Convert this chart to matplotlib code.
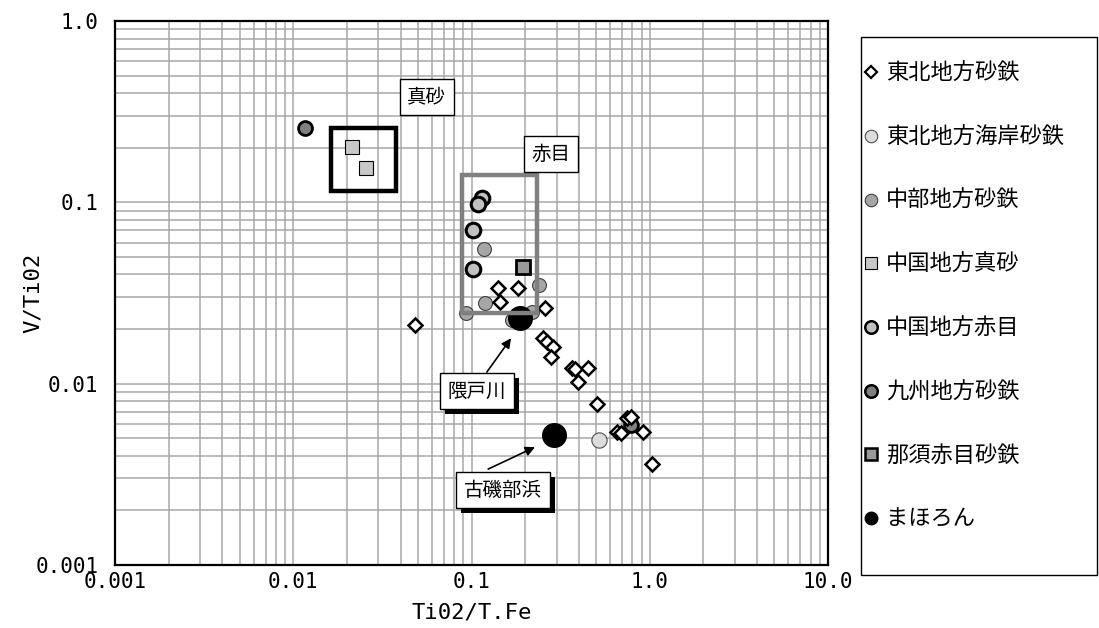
import matplotlib
matplotlib.use("Agg")
import matplotlib.pyplot as plt
import matplotlib.patheffects as pe
from matplotlib.lines import Line2D
from matplotlib.patches import Rectangle
from matplotlib.ticker import FixedLocator, FixedFormatter, NullFormatter, LogLocator

plt.rcParams['font.family'] = ['Noto Sans CJK JP', 'DejaVu Sans']

# 東北地方砂鉄 (diamonds)
tohoku_x = [0.0482, 0.141, 0.182, 0.1445, 0.258, 0.252, 0.266, 0.286, 0.279, 0.366,
            0.381, 0.451, 0.395, 0.506, 0.745, 0.785, 0.655, 0.690, 0.916, 1.03]
tohoku_y = [0.0210, 0.0337, 0.0337, 0.0282, 0.0261, 0.0178, 0.0170, 0.0159, 0.0140, 0.0122,
            0.0120, 0.0122, 0.0102, 0.00772, 0.00646, 0.00654, 0.00541, 0.00534, 0.00541, 0.00360]
# 東北地方海岸砂鉄
coast_x = [0.519]
coast_y = [0.00489]
# 中部地方砂鉄
chubu_x = [0.1175, 0.119, 0.239, 0.0931, 0.1686, 0.218]
chubu_y = [0.0553, 0.0278, 0.0350, 0.0245, 0.0224, 0.0248]
# 中国地方真砂
masago_x = [0.0214, 0.0256]
masago_y = [0.202, 0.155]
# 中国地方赤目
akame_x = [0.1146, 0.1086, 0.1018, 0.1018]
akame_y = [0.1056, 0.0979, 0.0704, 0.0429]
# 九州地方砂鉄
kyushu_x = [0.0117, 0.785]
kyushu_y = [0.257, 0.00591]
# 那須赤目砂鉄
nasu_x = [0.1945]
nasu_y = [0.0440]
# まほろん
mahoron_x = [0.187, 0.290]
mahoron_y = [0.0230, 0.00521]

legend_labels = ['東北地方砂鉄', '東北地方海岸砂鉄', '中部地方砂鉄', '中国地方真砂',
                 '中国地方赤目', '九州地方砂鉄', '那須赤目砂鉄', 'まほろん']

# boxes around masago / akame groups: (x0, x1, y0, y1)
masago_box = (0.0163, 0.0376, 0.1154, 0.257)
akame_box = (0.0885, 0.233, 0.0245, 0.1415)

fig = plt.figure(figsize=(10.99, 6.28), dpi=100)
ax = fig.add_axes([115/1099, 1-565/628, (828-115)/1099, (565-21)/628])
ax.set_xscale('log')
ax.set_yscale('log')
ax.set_xlim(0.001, 10)
ax.set_ylim(0.001, 1)

ax.xaxis.set_major_locator(FixedLocator([0.001, 0.01, 0.1, 1, 10]))
ax.xaxis.set_major_formatter(FixedFormatter(['0.001', '0.01', '0.1', '1.0', '10.0']))
ax.yaxis.set_major_locator(FixedLocator([0.001, 0.01, 0.1, 1]))
ax.yaxis.set_major_formatter(FixedFormatter(['0.001', '0.01', '0.1', '1.0']))
for a in (ax.xaxis, ax.yaxis):
    a.set_minor_locator(LogLocator(base=10, subs=range(2, 10), numticks=20))
    a.set_minor_formatter(NullFormatter())
ax.tick_params(which='both', length=0)
ax.tick_params(axis='x', pad=5)
ax.tick_params(axis='y', pad=12)
for lab in ax.get_xticklabels() + ax.get_yticklabels():
    lab.set_family('DejaVu Sans Mono')
    lab.set_fontsize(15)
ax.grid(True, which='both', color='#a8a8a8', lw=1.1)
ax.set_axisbelow(True)
for s in ax.spines.values():
    s.set_linewidth(1.6)
    s.set_color('black')

ax.set_xlabel('Ti02/T.Fe', family='DejaVu Sans Mono', fontsize=16)
ax.set_ylabel('V/Ti02', family='DejaVu Sans Mono', fontsize=16)
ax.xaxis.set_label_coords(0.5, -(613 - 565) / 544, transform=ax.transAxes)
ax.xaxis.label.set_va('center')
ax.yaxis.set_label_coords((33 - 115) / 713, 0.5, transform=ax.transAxes)
ax.yaxis.label.set_va('center')

ax.plot(kyushu_x, kyushu_y, 'o', ms=10, mfc='#808080', mec='black', mew=2, ls='none', zorder=3)
ax.plot(masago_x, masago_y, 's', ms=10, mfc='#c8c8c8', mec='black', mew=0.8, ls='none', zorder=3)
ax.plot(chubu_x, chubu_y, 'o', ms=10, mfc='#a6a6a6', mec='#404040', mew=0.8, ls='none', zorder=3)
ax.plot(akame_x, akame_y, 'o', ms=10.5, mfc='#c0c0c0', mec='black', mew=2.2, ls='none', zorder=3)
ax.plot(nasu_x, nasu_y, 's', ms=10, mfc='#999999', mec='black', mew=2, ls='none', zorder=3)
ax.plot(coast_x, coast_y, 'o', ms=11, mfc='#dcdcdc', mec='#505050', mew=0.8, ls='none', zorder=3)
ax.plot(mahoron_x, mahoron_y, 'o', ms=17, mfc='black', mec='black', ls='none', zorder=4)
ax.plot(tohoku_x, tohoku_y, 'D', ms=7.5, mfc='white', mec='black', mew=1.8, ls='none', zorder=5)

for box, col in ((masago_box, 'black'), (akame_box, '#808080')):
    x0, x1, y0, y1 = box
    ax.add_patch(Rectangle((x0, y0), x1 - x0, y1 - y0, fill=False, ec=col, lw=3.2, zorder=6))

def label(x, y, s, shadow=False):
    t = ax.text(x, y, s, ha='center', va='center', fontsize=14, zorder=8,
                bbox=dict(boxstyle='square,pad=0.4', fc='white', ec='black', lw=1))
    if shadow:
        t.get_bbox_patch().set_path_effects([
            pe.SimplePatchShadow(offset=(3.5, -3.5), shadow_rgbFace='black', alpha=1),
            pe.Normal()])
    return t

label(0.0562, 0.381, '真砂')
label(0.279, 0.1847, '赤目')
label(0.1074, 0.0091, '隈戸川', shadow=True)
label(0.150, 0.00259, '古磯部浜', shadow=True)

arrow = dict(arrowstyle='-|>', color='black', lw=1.2, mutation_scale=14, shrinkA=0, shrinkB=0)
ax.annotate('', xy=(0.1667, 0.0178), xytext=(0.122, 0.01159), arrowprops=arrow, zorder=7)
ax.annotate('', xy=(0.227, 0.00447), xytext=(0.124, 0.00338), arrowprops=arrow, zorder=7)

# legend
fig.patches.append(Rectangle((861/1099, 1-575/628), (1097-861)/1099, (575-37)/628,
                             transform=fig.transFigure, fill=False, ec='black', lw=1))
handles = [
    Line2D([], [], marker='D', ms=6.5, mfc='white', mec='black', mew=1.6, ls='none'),
    Line2D([], [], marker='o', ms=9, mfc='#dcdcdc', mec='#505050', mew=0.8, ls='none'),
    Line2D([], [], marker='o', ms=9, mfc='#a6a6a6', mec='#404040', mew=0.8, ls='none'),
    Line2D([], [], marker='s', ms=8.5, mfc='#c8c8c8', mec='black', mew=0.8, ls='none'),
    Line2D([], [], marker='o', ms=9, mfc='#c0c0c0', mec='black', mew=1.8, ls='none'),
    Line2D([], [], marker='o', ms=9, mfc='#808080', mec='black', mew=1.8, ls='none'),
    Line2D([], [], marker='s', ms=8.5, mfc='#999999', mec='black', mew=1.8, ls='none'),
    Line2D([], [], marker='o', ms=9, mfc='black', mec='black', ls='none'),
]
fig.legend(handles, legend_labels, loc='upper left', bbox_to_anchor=(864/1099, 1-62/628),
           frameon=False, borderpad=0, borderaxespad=0, handlelength=0.6,
           handletextpad=0.4, labelspacing=1.83, prop={'family': 'Noto Sans CJK JP', 'size': 16})

fig.savefig('out.png', dpi=100)
